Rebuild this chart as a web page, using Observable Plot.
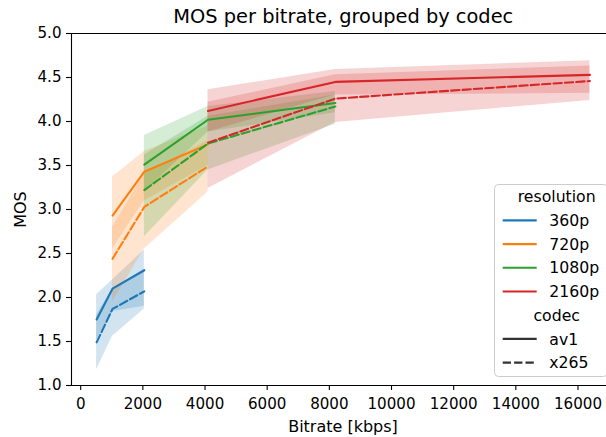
<!DOCTYPE html>
<html>
<head>
<meta charset="utf-8">
<script src="https://cdn.jsdelivr.net/npm/d3@7"></script>
<script src="https://cdn.jsdelivr.net/npm/@observablehq/plot@0.6"></script>
<style>
  html, body { margin: 0; padding: 0; background: white; }
  #chart { width: 606px; height: 437px; overflow: hidden; }
</style>
</head>
<body>
<div id="chart"></div>
<script>
// Mean opinion score per bitrate, one series per resolution and codec,
// with the confidence band of each series as [low, high].
const resolutions = ["360p", "720p", "1080p", "2160p"];
const codecs = ["av1", "x265"];
const colors = ["#1f77b4", "#ff7f0e", "#2ca02c", "#d62728"];

const bitrates360 = [512, 1024, 2048];
const bitrates720 = [1024, 2048, 4096];
const bitrates1080 = [2048, 4096, 8192];
const bitrates2160 = [4096, 8192, 16384];

const av1_360p = [1.75, 2.10, 2.31];
const av1_360p_ci = [[1.52, 2.03], [1.84, 2.20], [1.90, 2.54]];
const x265_360p = [1.49, 1.87, 2.07];
const x265_360p_ci = [[1.18, 1.80], [1.56, 2.10], [1.87, 2.32]];

const av1_720p = [2.93, 3.43, 3.74];
const av1_720p_ci = [[2.55, 3.37], [3.10, 3.66], [3.50, 3.95]];
const x265_720p = [2.44, 3.03, 3.49];
const x265_720p_ci = [[1.95, 2.80], [2.55, 3.40], [3.20, 3.78]];

const av1_1080p = [3.51, 4.02, 4.21];
const av1_1080p_ci = [[3.20, 3.84], [3.88, 4.17], [4.10, 4.34]];
const x265_1080p = [3.22, 3.75, 4.17];
const x265_1080p_ci = [[2.69, 3.62], [3.45, 4.06], [3.97, 4.30]];

const av1_2160p = [4.12, 4.45, 4.53];
const av1_2160p_ci = [[3.88, 4.36], [4.30, 4.59], [4.32, 4.69]];
const x265_2160p = [3.76, 4.26, 4.46];
const x265_2160p_ci = [[3.24, 4.22], [3.99, 4.53], [4.24, 4.63]];

const xTicks = [0, 2000, 4000, 6000, 8000, 10000, 12000, 14000, 16000];
const yTicks = [1.0, 1.5, 2.0, 2.5, 3.0, 3.5, 4.0, 4.5, 5.0];

const seriesList = [
  ["360p", "av1", bitrates360, av1_360p, av1_360p_ci],
  ["360p", "x265", bitrates360, x265_360p, x265_360p_ci],
  ["720p", "av1", bitrates720, av1_720p, av1_720p_ci],
  ["720p", "x265", bitrates720, x265_720p, x265_720p_ci],
  ["1080p", "av1", bitrates1080, av1_1080p, av1_1080p_ci],
  ["1080p", "x265", bitrates1080, x265_1080p, x265_1080p_ci],
  ["2160p", "av1", bitrates2160, av1_2160p, av1_2160p_ci],
  ["2160p", "x265", bitrates2160, x265_2160p, x265_2160p_ci]
];

const rows = seriesList.flatMap(([resolution, codec, xs, ys, ci]) =>
  xs.map((bitrate, i) => ({
    resolution, codec, series: resolution + " " + codec,
    bitrate, mos: ys[i], lo: ci[i][0], hi: ci[i][1]
  }))
);

const dash = {av1: null, x265: "8.3,3.1"};
const font = "DejaVu Sans, sans-serif";

const lineMarks = seriesList.map(([resolution, codec]) =>
  Plot.line(rows.filter(d => d.resolution === resolution && d.codec === codec), {
    x: "bitrate", y: "mos", stroke: "resolution",
    strokeWidth: 2.1, strokeDasharray: dash[codec]
  })
);

const chart = Plot.plot({
  width: 606,
  height: 437,
  marginLeft: 71,
  marginRight: 0,
  marginTop: 33,
  marginBottom: 52,
  style: {fontFamily: font, fontSize: "15.1px", color: "black", background: "white"},
  x: {domain: [-296, 16917]},
  y: {domain: [1, 5]},
  color: {domain: resolutions, range: colors},
  marks: [
    Plot.areaY(rows, {
      x: "bitrate", y1: "lo", y2: "hi", z: "series",
      fill: "resolution", fillOpacity: 0.2
    }),
    ...lineMarks,
    Plot.axisX({ticks: xTicks, tickFormat: d3.format("d"), tickSize: 5, tickPadding: 7.8, label: null, strokeWidth: 1.1}),
    Plot.axisY({ticks: yTicks, tickFormat: d3.format(".1f"), tickSize: 5, tickPadding: 5, label: null, strokeWidth: 1.1}),
    Plot.ruleY([1, 5], {stroke: "black", strokeWidth: 1.1}),
    Plot.ruleX([-296], {stroke: "black", strokeWidth: 1.1})
  ]
});

document.getElementById("chart").appendChild(chart);

const svg = d3.select(chart);

// Title and axis labels
svg.append("text")
  .attr("x", 343.3).attr("y", 22.5)
  .attr("text-anchor", "middle")
  .attr("font-family", font).attr("font-size", 19.4)
  .attr("fill", "black")
  .text("MOS per bitrate, grouped by codec");

svg.append("text")
  .attr("x", 343).attr("y", 431.5)
  .attr("text-anchor", "middle")
  .attr("font-family", font).attr("font-size", 16)
  .attr("fill", "black")
  .text("Bitrate [kbps]");

svg.append("text")
  .attr("transform", "translate(25.5,209.5) rotate(-90)")
  .attr("text-anchor", "middle")
  .attr("font-family", font).attr("font-size", 16)
  .attr("fill", "black")
  .text("MOS");

// Legend: resolution colours, then codec line styles
const legend = svg.append("g").attr("font-family", font).attr("font-size", 15.7);
legend.append("rect")
  .attr("x", 494.5).attr("y", 184.5)
  .attr("width", 113).attr("height", 192)
  .attr("rx", 4)
  .attr("fill", "white").attr("fill-opacity", 0.8)
  .attr("stroke", "#cccccc").attr("stroke-width", 1);

const entries = [
  {label: "resolution", heading: true},
  ...resolutions.map((r, i) => ({label: r, color: colors[i], dash: null})),
  {label: "codec", heading: true},
  ...codecs.map(c => ({label: c, color: "#333333", dash: dash[c]}))
];

entries.forEach((e, i) => {
  const cy = 196.7 + i * 23.7;
  if (e.heading) {
    legend.append("text")
      .attr("x", 556.7).attr("y", cy).attr("dy", "0.36em")
      .attr("text-anchor", "middle").attr("fill", "black")
      .text(e.label);
  } else {
    legend.append("line")
      .attr("x1", 502.7).attr("x2", 536.7)
      .attr("y1", cy).attr("y2", cy)
      .attr("stroke", e.color).attr("stroke-width", 2.1)
      .attr("stroke-dasharray", e.dash);
    legend.append("text")
      .attr("x", 549.3).attr("y", cy).attr("dy", "0.36em")
      .attr("text-anchor", "start").attr("fill", "black")
      .text(e.label);
  }
});
</script>
</body>
</html>
